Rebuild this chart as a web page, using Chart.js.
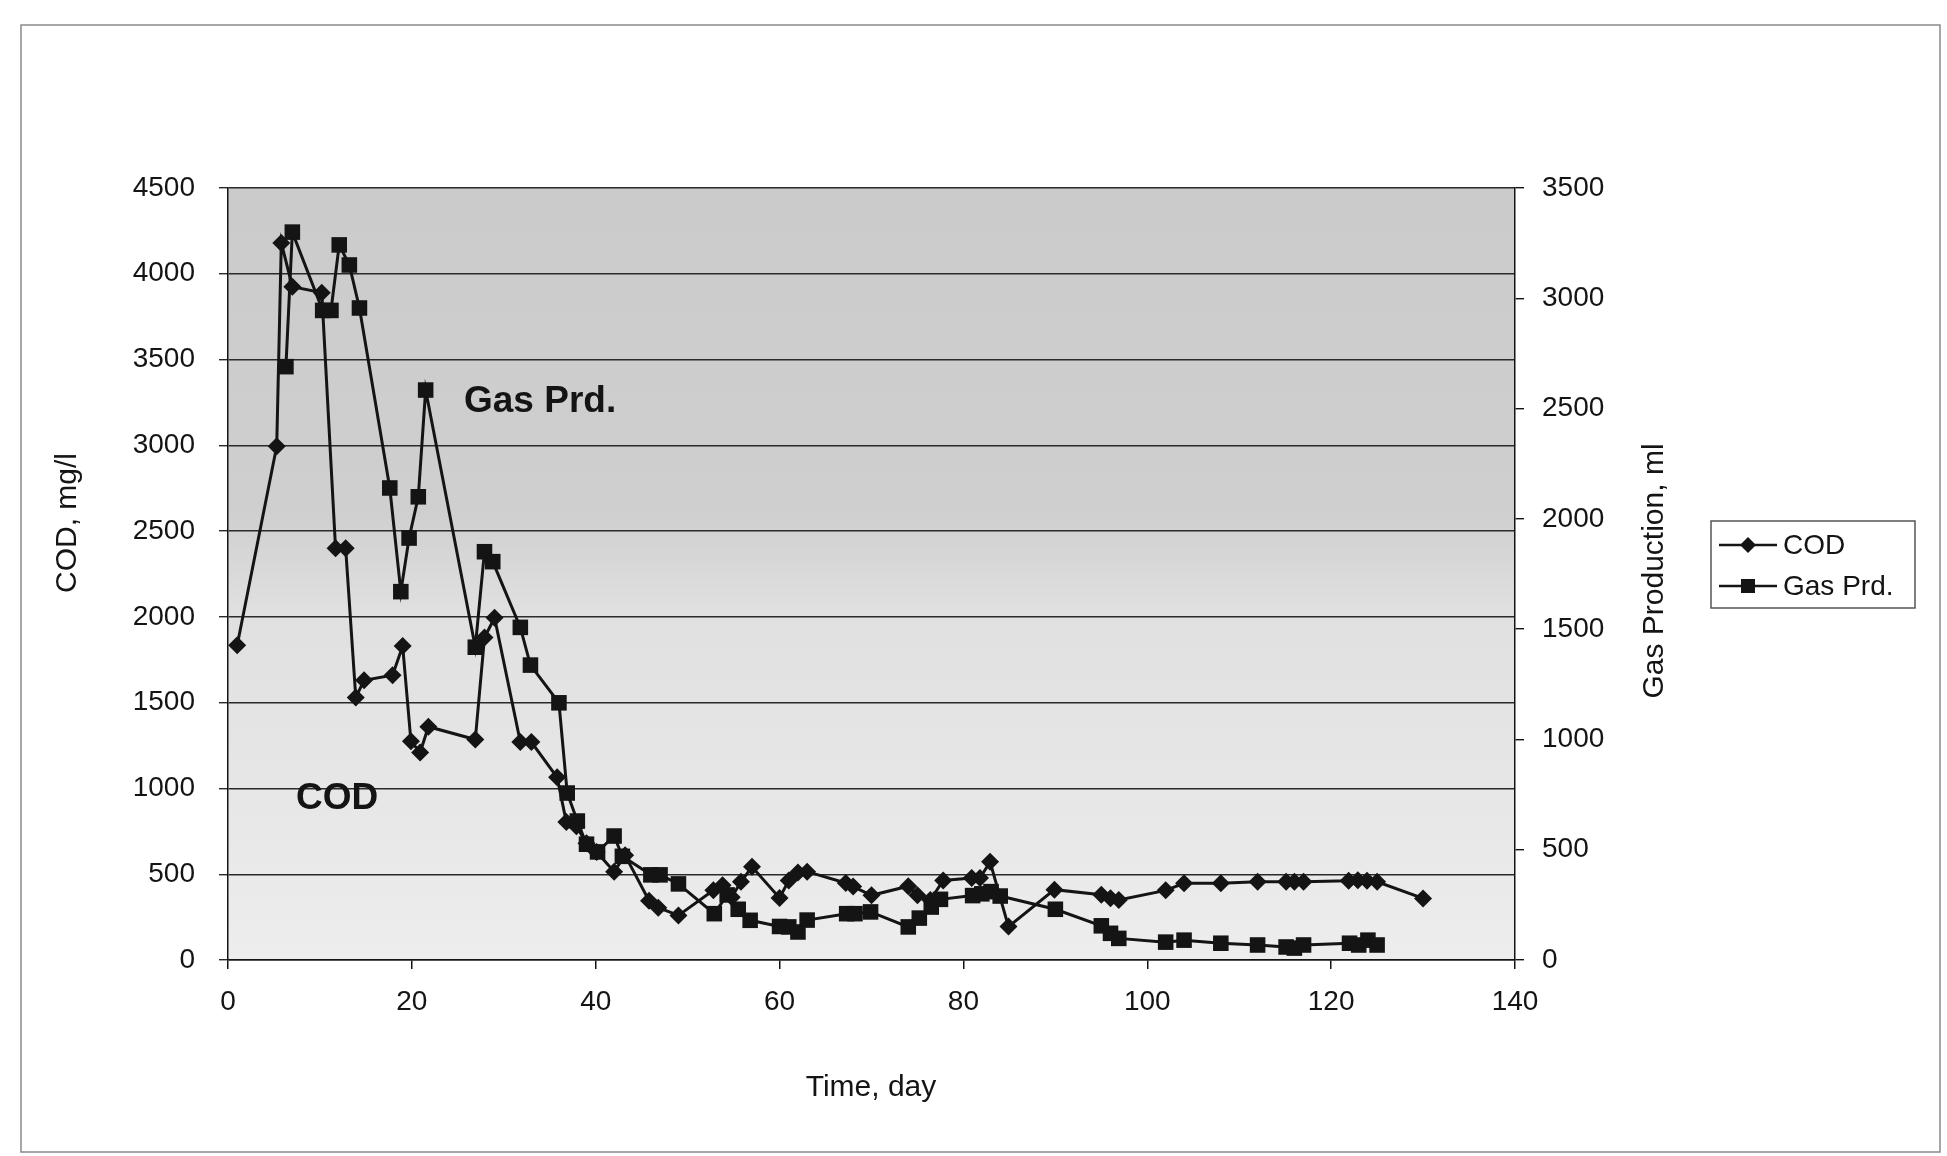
<!DOCTYPE html>
<html>
<head>
<meta charset="utf-8">
<title>COD and Gas Production</title>
<script src="https://cdn.jsdelivr.net/npm/chart.js@4.4.1/dist/chart.umd.min.js"></script>
<style>
  html, body { margin: 0; padding: 0; background: #fff; }
  #wrap { width: 1947px; height: 1156px; position: relative; }
</style>
</head>
<body>
<div id="wrap"><canvas id="chart" width="1947" height="1156"></canvas></div>
<script>
const codDays = [
  1, 5.3, 5.8, 7, 10.2, 11.7, 12.8, 13.9, 14.8, 17.9, 19, 19.9, 20.9, 21.8,
  26.9, 27.9, 29, 31.8, 33, 35.8, 36.8, 37.9, 39, 40.1, 42, 43.2, 45.8, 46.8,
  49, 52.8, 53.8, 54.8, 55.8, 57, 60, 61, 62, 63, 67.2, 68, 70, 74, 75, 76.4,
  77.8, 80.9, 81.8, 82.9, 84.9, 89.9, 95, 96, 96.9, 102, 104, 108, 112, 115.1,
  116, 117, 121.9, 122.9, 123.9, 125, 130
];
const codValues = [
  1835, 2995, 4180, 3925, 3890, 2400, 2400, 1530, 1630, 1660, 1830, 1275, 1210, 1360,
  1285, 1880, 1995, 1270, 1270, 1065, 805, 780, 680, 630, 515, 610, 345, 305,
  260, 406, 435, 366, 456, 543, 362, 464, 510, 515, 449, 428, 377, 430, 377, 350,
  464, 478, 478, 572, 195, 410, 380, 360, 350, 406, 447, 447, 456, 456,
  456, 456, 462, 465, 462, 456, 359
];

const gasDays = [
  6.3, 7, 10.3, 11.2, 12.1, 13.2, 14.3, 17.6, 18.8, 19.7, 20.7, 21.5,
  26.9, 27.9, 28.8, 31.8, 32.9, 36, 36.9, 38, 39, 40.2, 42, 42.9, 46, 47,
  49, 52.9, 54.3, 55.5, 56.8, 60, 61, 62, 63, 67.3, 68.2, 69.9, 74, 75.2,
  76.5, 77.5, 81, 82, 83, 84, 90, 95, 96, 96.9, 102, 104, 108, 112, 115.1,
  116, 117, 122, 123, 124, 125
];
const gasValues = [
  2690, 3300, 2945, 2945, 3242, 3151, 2956, 2140, 1670, 1913, 2100, 2584,
  1418, 1851, 1806, 1508, 1337, 1166, 757, 630, 525, 490, 562, 470, 386, 386,
  345, 210, 295, 230, 180, 152, 150, 127, 181, 210, 210, 218, 150, 190,
  240, 275, 292, 300, 310, 290, 230, 155, 121, 98, 81, 90, 76, 68, 59,
  54, 68, 76, 68, 90, 68
];

const xTicks = [0, 20, 40, 60, 80, 100, 120, 140];
const codTicks = [0, 500, 1000, 1500, 2000, 2500, 3000, 3500, 4000, 4500];
const gasTicks = [0, 500, 1000, 1500, 2000, 2500, 3000, 3500];

const FONT = "'Liberation Sans', Arial, sans-serif";
const INK = "#141414";

const AREA = { left: 228, right: 1515, top: 188, bottom: 960 };

function toPoints(xs, ys) {
  return xs.map((x, i) => ({ x, y: ys[i] }));
}

// stippled grey plot background, darker at the top like the scan
const backgroundPlugin = {
  id: "plotBackground",
  beforeDraw(chart) {
    const { ctx, chartArea: a } = chart;
    ctx.save();
    ctx.fillStyle = "#fff";
    ctx.fillRect(0, 0, chart.width, chart.height);
    const g = ctx.createLinearGradient(0, a.top, 0, a.bottom);
    g.addColorStop(0, "#cbcbcb");
    g.addColorStop(0.42, "#cfcfcf");
    g.addColorStop(0.55, "#e0e0e0");
    g.addColorStop(1, "#ededed");
    ctx.fillStyle = g;
    ctx.fillRect(a.left, a.top, a.right - a.left, a.bottom - a.top);

    ctx.strokeStyle = "#8a8a8a";
    ctx.lineWidth = 1.5;
    ctx.strokeRect(21, 25, 1919, 1127);
    ctx.restore();
  }
};

function drawMarker(ctx, style, x, y, r) {
  ctx.beginPath();
  if (style === "rect") {
    ctx.rect(x - r, y - r, r * 2, r * 2);
  } else {
    ctx.moveTo(x, y - r);
    ctx.lineTo(x + r, y);
    ctx.lineTo(x, y + r);
    ctx.lineTo(x - r, y);
    ctx.closePath();
  }
  ctx.fill();
}

// axis titles, in-plot labels and the boxed legend
const textPlugin = {
  id: "extraText",
  afterDraw(chart) {
    const { ctx } = chart;
    ctx.save();
    ctx.fillStyle = INK;
    ctx.textAlign = "center";
    ctx.textBaseline = "middle";

    ctx.font = `30px ${FONT}`;
    ctx.save();
    ctx.translate(68, 523);
    ctx.rotate(-Math.PI / 2);
    ctx.fillText("COD, mg/l", 0, 0);
    ctx.restore();

    ctx.save();
    ctx.translate(1655, 571);
    ctx.rotate(-Math.PI / 2);
    ctx.fillText("Gas Production, ml", 0, 0);
    ctx.restore();

    ctx.fillText("Time, day", 871, 1088);

    ctx.font = `bold 37px ${FONT}`;
    ctx.textAlign = "left";
    ctx.fillText("Gas Prd.", 464, 402);
    ctx.fillText("COD", 296, 799);

    // legend box
    ctx.fillStyle = "#fff";
    ctx.fillRect(1711, 521, 204, 87);
    ctx.strokeStyle = "#555";
    ctx.lineWidth = 1.5;
    ctx.strokeRect(1711, 521, 204, 87);

    const rows = [
      { label: "COD", style: "rectRot", y: 545, r: 8 },
      { label: "Gas Prd.", style: "rect", y: 586, r: 7 }
    ];
    ctx.font = `28px ${FONT}`;
    rows.forEach((row) => {
      ctx.strokeStyle = INK;
      ctx.lineWidth = 2.5;
      ctx.beginPath();
      ctx.moveTo(1719, row.y);
      ctx.lineTo(1777, row.y);
      ctx.stroke();
      ctx.fillStyle = INK;
      drawMarker(ctx, row.style, 1748, row.y, row.r);
      ctx.fillText(row.label, 1783, row.y + 1);
    });
    ctx.restore();
  }
};

function fixedTicks(values) {
  return (scale) => {
    scale.ticks = values.map((v) => ({ value: v }));
  };
}

const plainLabel = (v) => String(v);

new Chart(document.getElementById("chart"), {
  type: "scatter",
  data: {
    datasets: [
      {
        label: "COD",
        data: toPoints(codDays, codValues),
        yAxisID: "y",
        showLine: true,
        borderColor: INK,
        backgroundColor: INK,
        borderWidth: 3,
        pointStyle: "rectRot",
        pointRadius: 9,
        pointBorderWidth: 0,
        tension: 0
      },
      {
        label: "Gas Prd.",
        data: toPoints(gasDays, gasValues),
        yAxisID: "y2",
        showLine: true,
        borderColor: INK,
        backgroundColor: INK,
        borderWidth: 3,
        pointStyle: "rect",
        pointRadius: 11,
        pointBorderWidth: 0,
        tension: 0
      }
    ]
  },
  options: {
    responsive: false,
    animation: false,
    layout: { padding: { top: AREA.top, left: 0, right: 0, bottom: 0 } },
    plugins: {
      legend: { display: false },
      tooltip: { enabled: false }
    },
    scales: {
      x: {
        type: "linear",
        min: 0,
        max: 140,
        afterBuildTicks: fixedTicks(xTicks),
        afterFit: (s) => { s.height = 1156 - AREA.bottom; },
        ticks: { color: INK, font: { family: FONT, size: 28 }, padding: 16, maxRotation: 0, callback: plainLabel },
        grid: { drawOnChartArea: false, drawTicks: true, tickLength: 9, color: INK, lineWidth: 1.5 },
        border: { display: true, color: INK, width: 1.5 }
      },
      y: {
        position: "left",
        min: 0,
        max: 4500,
        afterBuildTicks: fixedTicks(codTicks),
        afterFit: (s) => { s.width = AREA.left; },
        ticks: { color: INK, font: { family: FONT, size: 28 }, padding: 24, callback: plainLabel },
        grid: { drawOnChartArea: true, drawTicks: true, tickLength: 9, color: "#2a2a2a", lineWidth: 1.4 },
        border: { display: true, color: INK, width: 1.5 }
      },
      y2: {
        position: "right",
        min: 0,
        max: 3500,
        afterBuildTicks: fixedTicks(gasTicks),
        afterFit: (s) => { s.width = 1947 - AREA.right; },
        ticks: { color: INK, font: { family: FONT, size: 28 }, padding: 18, callback: plainLabel },
        grid: { drawOnChartArea: false, drawTicks: true, tickLength: 9, color: INK, lineWidth: 1.4 },
        border: { display: true, color: INK, width: 1.5 }
      }
    }
  },
  plugins: [backgroundPlugin, textPlugin]
});
</script>
</body>
</html>
